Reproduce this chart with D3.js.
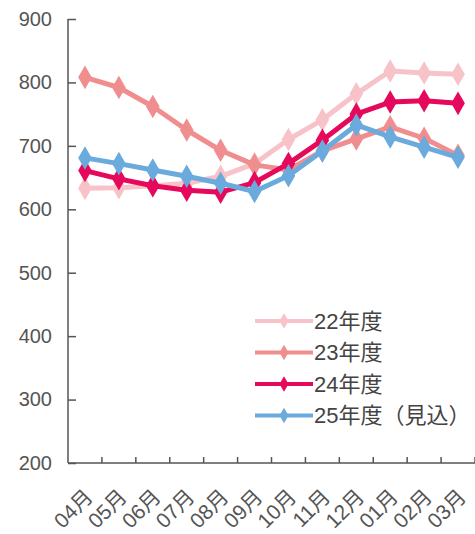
<!DOCTYPE html>
<html>
<head>
<meta charset="utf-8">
<script src="https://cdn.jsdelivr.net/npm/d3@7"></script>
<style>
  body { margin: 0; background: #fff; }
  text { font-family: "Liberation Sans", "Noto Sans CJK JP", sans-serif; fill: #555; }
  .axis path, .axis line { stroke: #555; stroke-width: 1.5; }
</style>
</head>
<body>
<svg id="chart" width="475" height="534"></svg>
<script>
let months = ['04月', '05月', '06月', '07月', '08月', '09月', '10月', '11月', '12月', '01月', '02月', '03月'];
let yTicks = [200, 300, 400, 500, 600, 700, 800, 900];
let seriesNames = ['22年度', '23年度', '24年度', '25年度（見込）'];
let fy22 = [633, 634, 637, 641, 652, 672, 710, 741, 782, 818, 815, 813];
let fy23 = [808, 792, 762, 725, 693, 670, 662, 692, 711, 730, 712, 685];
let fy24 = [661, 648, 637, 630, 627, 642, 672, 709, 750, 769, 771, 767];
let fy25 = [681, 672, 662, 652, 641, 628, 653, 692, 733, 714, 698, 682];
let colors = ['#f7c3c8', '#f08e8f', '#e6085b', '#6aaadc'];

let margin = {top: 19, right: 0, bottom: 71, left: 68},
  width = 475 - margin.left - margin.right,
  height = 534 - margin.top - margin.bottom;

let svg = d3.select('#chart');
let g = svg.append('g')
  .attr('transform', `translate(${margin.left},${margin.top})`);

let sx = d3.scaleBand().domain(months).range([0, width]);
let sy = d3.scaleLinear().domain([200, 900]).range([height, 0]);
let cx = d => sx(d) + sx.bandwidth() / 2;

// y axis, ticks pointing into the plot
let yAxis = d3.axisLeft(sy).tickValues(yTicks).tickSizeInner(-8).tickSizeOuter(0).tickPadding(16);
let gy = g.append('g').attr('class', 'y axis').call(yAxis);
gy.selectAll('text').style('font-size', '20px');
gy.select('.domain').attr('d', `M0,${sy(900)}V${height}`);

// x axis baseline and ticks at band edges
let gx = g.append('g').attr('class', 'x axis').attr('transform', `translate(0,${height})`);
gx.append('line').attr('x1', 0).attr('x2', width).attr('y1', 0).attr('y2', 0);
gx.selectAll('.tick')
  .data(months.slice(1).concat(['end']))
  .enter().append('line')
  .attr('class', 'tick')
  .attr('x1', (d, i) => sx.step() * (i + 1))
  .attr('x2', (d, i) => sx.step() * (i + 1))
  .attr('y1', 0).attr('y2', -6);
gx.selectAll('.lbl')
  .data(months)
  .enter().append('text')
  .attr('class', 'lbl')
  .attr('transform', d => `translate(${cx(d) + 4},${30}) rotate(-45)`)
  .attr('text-anchor', 'end')
  .attr('dy', '0.35em')
  .style('font-size', '21px')
  .text(d => d);

let diamond = d3.symbol().type(d3.symbolDiamond);
let line = d3.line().x((d, i) => cx(months[i])).y(d => sy(d));

let all = [fy22, fy23, fy24, fy25];
all.forEach((vals, k) => {
  let s = g.append('g').attr('class', 'series');
  s.append('path')
    .datum(vals)
    .attr('d', line)
    .attr('fill', 'none')
    .attr('stroke', colors[k])
    .attr('stroke-width', 5)
    .attr('stroke-linejoin', 'round');
  s.selectAll('path.pt')
    .data(vals)
    .enter().append('path')
    .attr('class', 'pt')
    .attr('d', diamond.size(160))
    .attr('transform', (d, i) => `translate(${cx(months[i])},${sy(d)})`)
    .attr('fill', colors[k]);
});

// legend
let legend = svg.append('g').attr('transform', 'translate(255,321)');
seriesNames.forEach((name, k) => {
  let row = legend.append('g').attr('transform', `translate(0,${k * 31.5})`);
  row.append('line')
    .attr('x1', 0).attr('x2', 58).attr('y1', 0).attr('y2', 0)
    .attr('stroke', colors[k]).attr('stroke-width', 4);
  row.append('path')
    .attr('d', diamond.size(70))
    .attr('transform', 'translate(29,0)')
    .attr('fill', colors[k]);
  row.append('text')
    .attr('x', 59).attr('dy', '0.35em')
    .style('font-size', '22px')
    .style('fill', '#444')
    .text(name);
});
</script>
</body>
</html>
